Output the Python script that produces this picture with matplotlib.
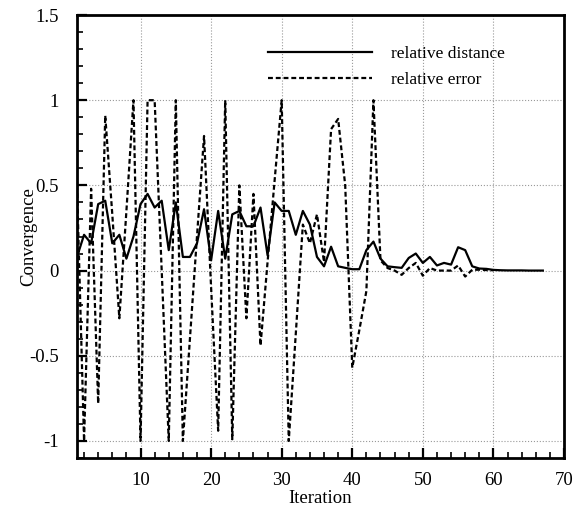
import numpy as np
import matplotlib
matplotlib.use("Agg")
import matplotlib.pyplot as plt
from matplotlib.ticker import MultipleLocator, FuncFormatter

plt.rcParams["font.family"] = ["Liberation Serif", "DejaVu Serif"]
plt.rcParams["axes.unicode_minus"] = False

# relative distance (solid line), iterations 1..67
dist_iter = list(range(1, 68))
rel_distance = [
    0.08, 0.21, 0.16, 0.39, 0.41, 0.16, 0.21, 0.07, 0.20, 0.39,
    0.45, 0.37, 0.41, 0.12, 0.40, 0.08, 0.08, 0.16, 0.36, 0.06,
    0.35, 0.07, 0.33, 0.35, 0.26, 0.26, 0.37, 0.09, 0.40, 0.35,
    0.35, 0.21, 0.35, 0.27, 0.08, 0.025, 0.14, 0.025, 0.016, 0.008,
    0.008, 0.12, 0.17, 0.07, 0.025, 0.02, 0.016, 0.074, 0.10, 0.045,
    0.08, 0.03, 0.045, 0.035, 0.137, 0.12, 0.025, 0.012, 0.01, 0.004,
    0.002, 0.001, 0.001, 0.001, 0.0, 0.0, 0.0,
]

# relative error (dashed line), iterations 1..60
err_iter = list(range(1, 61))
rel_error = [
    0.50, -1.0, 0.48, -0.78, 0.91, 0.33, -0.28, 0.35, 1.0, -1.0,
    1.0, 1.0, 0.0, -1.0, 1.0, -1.0, -0.40, 0.20, 0.79, -0.10,
    -0.94, 1.0, -0.99, 0.50, -0.28, 0.45, -0.44, 0.05, 0.53, 1.0,
    -1.0, -0.37, 0.27, 0.16, 0.33, 0.05, 0.83, 0.89, 0.50, -0.57,
    -0.35, -0.12, 1.0, 0.06, 0.015, 0.0, -0.025, 0.015, 0.045, -0.03,
    0.015, 0.0, 0.0, 0.0, 0.03, -0.035, 0.005, 0.005, 0.003, 0.002,
]

fig = plt.figure(figsize=(5.81, 5.09), dpi=100)
ax = fig.add_axes([77 / 581, 1 - 458 / 509, 487 / 581, 443 / 509])

ax.plot(dist_iter, rel_distance, color="black", lw=1.6, label="relative distance")
ax.plot(err_iter, rel_error, color="black", lw=1.6, linestyle=(0, (2.2, 1.3)),
        label="relative error")

ax.set_xlim(1, 70)
ax.set_ylim(-1.1, 1.5)
ax.xaxis.set_major_locator(MultipleLocator(10))
ax.xaxis.set_minor_locator(MultipleLocator(2))
ax.yaxis.set_major_locator(MultipleLocator(0.5))
ax.yaxis.set_minor_locator(MultipleLocator(0.1))
ax.yaxis.set_major_formatter(FuncFormatter(lambda v, p: "%g" % round(v, 2)))

ax.tick_params(which="both", direction="in", top=False, right=False,
               labelsize=13.5, width=1.2)
ax.tick_params(which="major", length=7, width=1.6)
ax.tick_params(which="minor", length=4)
ax.tick_params(axis="x", which="major", pad=10)
ax.tick_params(axis="y", which="major", pad=13)
for s in ax.spines.values():
    s.set_linewidth(2)

ax.grid(True, which="major", linestyle=":", color="#999999", lw=0.8)

ax.set_xlabel("Iteration", fontsize=13.5)
ax.set_ylabel("Convergence", fontsize=13.5)
ax.xaxis.set_label_coords((320 - 77) / 487, (458 - 490) / 443)
ax.yaxis.set_label_coords((37 - 77) / 487, 0.5)

ax.legend(loc="upper left", bbox_to_anchor=(268 / 581, 1 - 46 / 509),
          bbox_transform=fig.transFigure, frameon=False, fontsize=12.5,
          handlelength=6.0, handletextpad=1.1, labelspacing=0.55,
          borderpad=0, borderaxespad=0)

fig.savefig("out.png", dpi=100)
